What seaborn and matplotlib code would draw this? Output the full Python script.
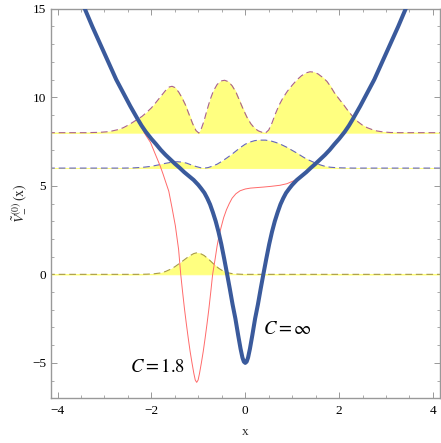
import matplotlib
matplotlib.use("Agg")
import matplotlib.pyplot as plt
import seaborn as sns
import numpy as np

# ---------------- data ----------------
blue_x = [-3.42, -3.26, -3.09, -2.92, -2.75, -2.59, -2.45, -2.30, -2.21, -2.12, -2.00, -1.90,
          -1.80, -1.70, -1.60, -1.50, -1.40, -1.30, -1.20, -1.10, -1.00, -0.94, -0.87, -0.81,
          -0.75, -0.69, -0.63, -0.57, -0.51, -0.45, -0.39, -0.33, -0.27, -0.21, -0.15, -0.10,
          -0.06, -0.03, 0.0,
          0.03, 0.06, 0.10, 0.15, 0.21, 0.27, 0.33, 0.39, 0.45, 0.51, 0.57, 0.63, 0.69,
          0.75, 0.81, 0.87, 0.94, 1.00, 1.10, 1.20, 1.30, 1.40, 1.50, 1.60, 1.70, 1.80,
          1.90, 2.00, 2.12, 2.21, 2.30, 2.45, 2.59, 2.75, 2.92, 3.09, 3.26, 3.42]
blue_y = [15.0, 14.0, 13.0, 12.0, 11.0, 10.2, 9.5, 8.8, 8.4, 8.05, 7.65, 7.35,
          7.03, 6.75, 6.5, 6.25, 6.02, 5.77, 5.55, 5.33, 5.05, 4.85, 4.6, 4.3,
          3.95, 3.5, 3.0, 2.4, 1.7, 0.9, 0.06, -0.8, -1.7, -2.5, -3.45, -4.2,
          -4.7, -4.93, -5.0,
          -4.93, -4.7, -4.2, -3.45, -2.5, -1.7, -0.8, 0.06, 0.9, 1.7, 2.4, 3.0, 3.5,
          3.95, 4.3, 4.6, 4.85, 5.05, 5.33, 5.55, 5.77, 6.02, 6.25, 6.5, 6.75, 7.03,
          7.35, 7.65, 8.05, 8.4, 8.8, 9.5, 10.2, 11.0, 12.0, 13.0, 14.0, 15.0]

red_x = [-3.42, -3.09, -2.75, -2.59, -2.30, -2.13, -2.02, -1.95, -1.88, -1.81, -1.75, -1.70,
         -1.63, -1.56, -1.49, -1.42, -1.375, -1.335, -1.295, -1.255, -1.215, -1.175, -1.135,
         -1.095, -1.065, -1.035, -1.005, -0.975, -0.935, -0.895, -0.855, -0.815, -0.775,
         -0.735, -0.695, -0.64, -0.60, -0.55, -0.50, -0.46, -0.40, -0.34, -0.28, -0.20,
         -0.11, 0.0, 0.11, 0.25, 0.39, 0.55, 0.74, 0.89, 1.03, 1.14, 1.24, 1.32, 1.40,
         1.50, 1.60, 1.70, 1.80, 1.90, 2.00, 2.12, 2.30, 2.59, 2.75, 3.09, 3.42]
red_y = [15.0, 13.0, 11.0, 10.2, 8.75, 7.9, 7.45, 7.0, 6.55, 6.1, 5.65, 5.25,
         4.7, 3.75, 2.75, 1.4, 0.0, -1.0, -1.95, -2.8, -3.6, -4.35, -5.0,
         -5.6, -5.97, -6.1, -5.97, -5.6, -5.0, -4.35, -3.6, -2.8, -1.95,
         -1.0, 0.0, 0.9, 1.6, 2.3, 2.8, 3.2, 3.65, 4.0, 4.3, 4.55,
         4.72, 4.82, 4.87, 4.9, 4.93, 4.97, 5.03, 5.12, 5.28, 5.45, 5.65, 5.83, 6.02,
         6.25, 6.5, 6.75, 7.03, 7.35, 7.65, 8.05, 8.8, 10.2, 11.0, 13.0, 15.0]

# wavefunction curves (E + |psi|^2)
w0_level = 0.0
w0_x = [-4.2, -2.3, -2.1, -1.95, -1.8, -1.7, -1.6, -1.5, -1.4, -1.3, -1.2, -1.1, -1.03,
        -0.96, -0.88, -0.8, -0.72, -0.64, -0.56, -0.48, -0.4, -0.3, -0.2, -0.05, 4.2]
w0_y = [0.0, 0.0, 0.01, 0.03, 0.08, 0.16, 0.28, 0.43, 0.62, 0.82, 1.02, 1.17, 1.22,
        1.18, 1.07, 0.9, 0.7, 0.5, 0.33, 0.2, 0.11, 0.05, 0.02, 0.0, 0.0]

w6_level = 6.0
w6_x = [-4.2, -2.6, -2.4, -2.2, -2.0, -1.85, -1.7, -1.55, -1.45, -1.35, -1.25, -1.15, -1.05,
        -0.95, -0.87, -0.79, -0.7, -0.6, -0.5, -0.4, -0.3, -0.2, -0.1, 0.0, 0.1, 0.2, 0.3,
        0.43, 0.55, 0.65, 0.75, 0.89, 1.0, 1.1, 1.2, 1.3, 1.4, 1.5, 1.6, 1.7, 1.81, 1.95,
        2.1, 2.3, 4.2]
w6_y = [6.0, 6.0, 6.01, 6.04, 6.1, 6.18, 6.27, 6.34, 6.36, 6.34, 6.28, 6.18, 6.09,
        6.02, 6.0, 6.03, 6.11, 6.22, 6.38, 6.56, 6.75, 6.96, 7.17, 7.35, 7.47, 7.55, 7.58,
        7.58, 7.53, 7.45, 7.35, 7.17, 7.0, 6.85, 6.68, 6.52, 6.4, 6.28, 6.18, 6.1, 6.05, 6.02,
        6.01, 6.0, 6.0]

w8_level = 8.0
w8_x = [-4.2, -3.4, -3.1, -2.9, -2.7, -2.6, -2.5, -2.4, -2.3, -2.2, -2.1, -2.0, -1.9, -1.8,
        -1.7, -1.62, -1.56, -1.5, -1.42, -1.35, -1.28, -1.2, -1.12, -1.05, -0.99, -0.94,
        -0.88, -0.82, -0.75, -0.68, -0.6, -0.52, -0.44, -0.36, -0.28, -0.2, -0.12, -0.04,
        0.04, 0.12, 0.2, 0.28, 0.36, 0.43, 0.5, 0.57, 0.64, 0.72, 0.8, 0.9, 1.0, 1.1, 1.2,
        1.3, 1.38, 1.46, 1.55, 1.65, 1.74, 1.82, 1.9, 2.0, 2.1, 2.2, 2.3, 2.4, 2.5, 2.6,
        2.7, 2.8, 2.94, 3.1, 3.3, 4.2]
w8_y = [8.0, 8.0, 8.02, 8.06, 8.18, 8.28, 8.42, 8.58, 8.75, 8.92, 9.15, 9.4, 9.72, 10.05,
        10.38, 10.58, 10.62, 10.55, 10.3, 9.98, 9.6, 9.05, 8.5, 8.12, 7.98, 8.2,
        8.65, 9.23, 9.85, 10.35, 10.72, 10.92, 10.96, 10.88, 10.65, 10.3, 9.8, 9.3,
        8.85, 8.5, 8.25, 8.1, 8.02, 7.98, 8.15, 8.55, 9.05, 9.55, 9.95, 10.35, 10.68, 10.98, 11.22,
        11.38, 11.44, 11.42, 11.32, 11.12, 10.9, 10.6, 10.25, 9.9, 9.56, 9.2, 8.88, 8.62, 8.42, 8.28,
        8.18, 8.1, 8.04, 8.01, 8.0, 8.0]

x_ticks = [-4, -2, 0, 2, 4]
y_ticks = [-5, 0, 5, 10, 15]
label_c18 = r"$C = 1.8$"
label_cinf = r"$C = \infty$"

# ---------------- style ----------------
sns.set_style("ticks")
plt.rcParams["font.family"] = ["Liberation Serif", "DejaVu Serif"]
plt.rcParams["mathtext.fontset"] = "stix"

fig = plt.figure(figsize=(4.41, 4.43), dpi=100)
ax = fig.add_axes([0.1156, 0.1009, 0.8821, 0.8794])

yellow = "#ffff80"
waves = [
    (w0_x, w0_y, w0_level, "#a89a48"),
    (w6_x, w6_y, w6_level, "#6464bc"),
    (w8_x, w8_y, w8_level, "#a8608e"),
]
for wx, wy, lev, col in waves:
    ax.fill_between(wx, lev, wy, color=yellow, linewidth=0.6, edgecolor=yellow, zorder=1)
    sns.lineplot(x=wx, y=wy, ax=ax, sort=False, estimator=None, color=col,
                 linewidth=0.8, zorder=2)
    ax.lines[-1].set_dashes((6, 3.5))

sns.lineplot(x=red_x, y=red_y, ax=ax, sort=False, estimator=None, color="#ff6a6a",
             linewidth=0.7, zorder=3)
sns.lineplot(x=blue_x, y=blue_y, ax=ax, sort=False, estimator=None, color="#3a5a9c",
             linewidth=2.9, zorder=4, solid_capstyle="round", solid_joinstyle="round")

ax.text(-1.86, -5.25, label_c18, fontsize=13.5, ha="center", va="center", color="black")
ax.text(0.9, -3.13, label_cinf, fontsize=13.5, ha="center", va="center", color="black")

ax.set_xlim(-4.14, 4.15)
ax.set_ylim(-7, 15)
ax.set_xticks(x_ticks)
ax.set_xticklabels(["\u22124", "\u22122", "0", "2", "4"])
ax.set_yticks(y_ticks)
ax.set_yticklabels(["\u22125", "0", "5", "10", "15"])
ax.set_xticks(np.arange(-4, 4.01, 0.5), minor=True)
ax.set_yticks(np.arange(-7, 15.01, 1), minor=True)

ax.tick_params(which="both", direction="in", top=True, right=True, colors="#888888",
               labelcolor="black", labelsize=9.5)
ax.tick_params(which="major", length=4.5, width=0.6)
ax.tick_params(which="minor", length=2.5, width=0.5)
ax.tick_params(axis="x", pad=5)
for s in ax.spines.values():
    s.set_color("#999999")
    s.set_linewidth(1.0)

ax.set_xlabel("x", fontsize=9.5, labelpad=6)
ax.set_ylabel(r"$\tilde{V}_{-}^{(0)}\,(\mathrm{x})$", fontsize=10, labelpad=2)

fig.savefig("out.png", dpi=100)
